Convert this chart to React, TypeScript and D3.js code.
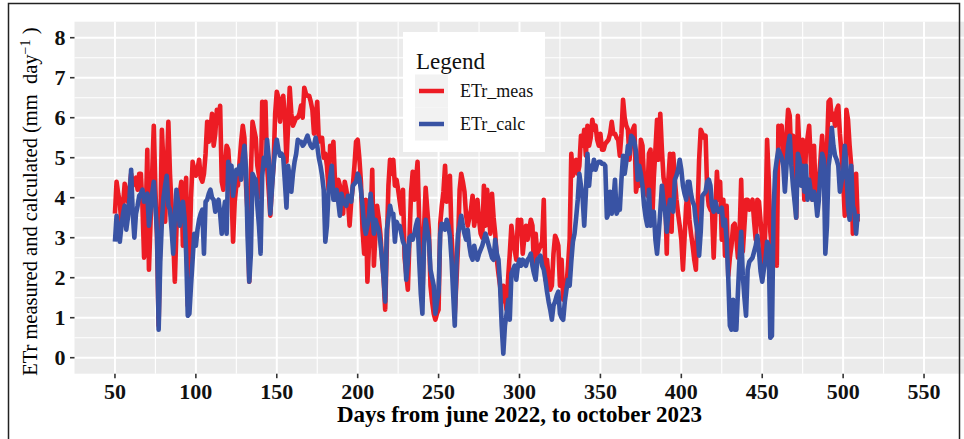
import React, { useEffect, useRef } from 'react';
import * as d3 from 'd3';

// daily values, day 50 .. 509
const etrMeas: number[] = [
  3.6, 4.4, 4.1, 3.9, 3.3, 3.8, 4.35, 4.1, 3.9, 4.2,
  4.6, 4.3, 4.4, 4.5, 4.2, 4.6, 4.6, 3.8, 2.5, 3.5,
  5.2, 2.2, 3.4, 4.6, 5.8, 4.2, 3.0, 0.8, 3.2, 5.7,
  4.8, 3.4, 4.6, 5.9, 4.6, 3.8, 3.0, 1.9, 3.2, 3.9,
  4.1, 4.4, 2.8, 3.95, 4.5, 1.3, 2.4, 4.0, 4.9, 4.7,
  4.55, 4.7, 4.95, 4.5, 4.4, 4.6, 5.1, 5.9, 5.4, 5.7,
  6.1, 5.3, 5.6, 6.2, 5.9, 6.3, 4.4, 4.2, 4.8, 5.3,
  5.2, 4.6, 4.15, 2.9, 3.9, 4.3, 4.3, 4.9, 5.4, 5.8,
  5.5, 4.3, 3.6, 1.9, 4.6, 5.9, 5.7, 5.5, 4.8, 4.55,
  4.0, 6.4, 5.5, 6.4, 4.8, 4.2, 3.55, 4.3, 4.8, 6.1,
  6.65, 6.5, 5.9, 6.3, 6.55, 6.0, 4.9, 5.8, 6.75, 6.1,
  5.8, 5.9, 6.0, 6.0, 6.1, 6.3, 6.0, 6.75, 6.6, 6.55,
  6.55, 6.4, 6.2, 5.6, 6.0, 6.4, 5.4, 5.5, 5.5, 5.0,
  5.1, 4.8, 4.2, 5.3, 5.0, 5.4, 4.4, 3.95, 4.45, 4.3,
  4.1, 3.6, 4.4, 4.2, 3.9, 3.3, 3.9, 4.3, 4.8, 5.4,
  5.45, 5.0, 4.4, 3.2, 2.6, 3.95, 1.9, 2.8, 3.45, 4.7,
  2.3, 3.1, 3.8, 3.5, 3.1, 2.5, 2.0, 1.2, 2.8, 4.3,
  4.95, 4.6, 4.95, 4.3, 4.45, 4.2, 3.9, 3.6, 4.2, 2.5,
  2.1, 1.7, 2.95, 4.15, 4.65, 3.95, 4.4, 4.9, 3.45, 2.5,
  1.45, 3.2, 4.25, 3.7, 3.2, 1.8, 1.4, 1.1, 0.95, 1.1,
  1.2, 3.35, 3.8, 4.15, 4.8, 3.9, 4.2, 4.55, 3.05, 2.3,
  1.1, 1.9, 2.8, 4.2, 4.6, 4.4, 4.15, 3.55, 3.3, 3.5,
  3.7, 4.05, 3.3, 3.6, 3.95, 3.45, 3.1, 3.0, 4.3, 3.3,
  4.2, 3.6, 3.1, 4.1, 3.5, 3.1, 2.45, 2.1, 1.8, 1.4,
  1.8, 1.5, 1.2, 2.0, 2.6, 3.3, 2.95, 2.7, 2.45, 3.45,
  3.1, 3.45, 2.6, 3.0, 3.3, 2.95, 3.2, 3.45, 3.3, 2.15,
  3.1, 2.6, 2.7, 2.8, 2.9, 3.95, 1.95, 2.45, 2.0, 1.7,
  1.8, 2.6, 3.05, 2.95, 2.8, 1.8, 2.45, 1.45, 1.6, 1.8,
  2.3, 2.95, 5.1, 4.55, 4.7, 4.95, 4.6, 4.8, 5.55, 5.3,
  5.7, 5.05, 5.8, 5.3, 5.5, 5.95, 5.7, 5.8, 5.45, 5.3,
  5.6, 5.2, 5.2, 5.35, 5.4, 5.45, 5.6, 5.9, 5.6, 5.6,
  5.5, 5.45, 5.05, 5.6, 6.45, 6.0, 5.8, 5.7, 4.95, 5.55,
  5.7, 5.8, 4.15, 4.4, 4.3, 5.45, 5.3, 4.4, 4.3, 4.05,
  5.1, 5.2, 3.4, 4.5, 5.2, 5.95, 4.95, 6.1, 5.2, 4.5,
  4.3, 2.6, 4.45, 5.1, 3.15, 5.1, 4.45, 3.95, 3.6, 3.3,
  2.95, 2.2, 3.0, 3.8, 4.15, 3.45, 3.1, 2.8, 2.45, 2.2,
  3.6, 4.95, 5.7, 5.6, 5.5, 5.55, 4.15, 3.8, 3.7, 3.65,
  2.5, 3.6, 4.65, 3.95, 4.4, 2.95, 3.95, 2.55, 3.8, 2.05,
  2.5, 2.8, 3.3, 3.35, 3.0, 2.5, 3.1, 4.45, 2.65, 3.3,
  3.95, 3.95, 3.7, 3.8, 3.95, 3.4, 2.95, 3.95, 3.9, 3.4,
  2.95, 2.3, 3.3, 5.45, 4.5, 3.15, 2.7, 2.3, 3.1, 2.3,
  5.8, 5.6, 5.8, 5.1, 4.65, 5.55, 6.2, 6.05, 4.95, 5.55,
  4.8, 3.5, 6.05, 5.2, 4.4, 5.45, 3.95, 5.2, 5.5, 5.8,
  4.95, 3.95, 5.3, 4.1, 3.8, 4.4, 4.95, 5.55, 4.95, 3.6,
  5.2, 6.4, 6.45, 5.95, 6.1, 5.8, 6.2, 6.3, 5.6, 5.1,
  4.45, 3.55, 6.2, 5.95, 5.3, 4.8, 3.1, 3.95, 4.6, 3.4,
];

const etrCalc: number[] = [
  2.9, 3.55, 3.2, 2.9, 3.3, 3.6, 3.8, 3.2, 3.5, 4.0,
  4.7, 3.6, 3.0, 3.6, 3.8, 4.05, 4.1, 4.2, 3.9, 4.0,
  4.1, 3.3, 3.7, 4.1, 4.4, 3.8, 3.1, 0.7, 2.4, 3.4,
  4.0, 4.3, 4.55, 3.8, 3.7, 3.2, 2.6, 3.5, 4.2, 3.9,
  3.3, 3.6, 3.9, 3.5, 2.6, 1.05, 1.1, 1.8, 2.45, 3.1,
  2.8, 3.2, 3.45, 3.6, 3.7, 2.6, 3.9, 3.95, 4.1, 4.2,
  4.0, 3.95, 3.65, 3.8, 3.95, 3.6, 3.1, 3.6, 3.9, 3.1,
  4.9, 4.6, 4.8, 4.05, 4.4, 4.7, 4.6, 4.8, 4.45, 5.0,
  5.3, 4.7, 3.0, 1.9, 2.6, 4.6, 4.5, 4.45, 3.8, 3.3,
  2.6, 4.55, 5.0, 4.8, 5.45, 5.0, 3.6, 4.2, 4.8, 5.2,
  5.45, 5.2, 5.05, 5.1, 5.0, 4.4, 3.75, 4.8, 4.5, 4.15,
  4.6, 4.9, 5.1, 5.45, 5.4, 5.4, 5.3, 5.35, 5.45, 5.55,
  5.4, 5.3, 5.25, 5.3, 5.5, 5.3, 5.0, 4.8, 4.55, 4.2,
  2.9, 3.3, 4.15, 4.5, 4.8, 3.95, 3.95, 4.2, 3.9, 3.55,
  4.1, 3.9, 3.85, 3.8, 4.05, 4.0, 3.9, 4.3, 4.35, 4.4,
  4.6, 4.5, 4.2, 3.8, 3.3, 3.1, 3.3, 3.55, 4.1, 3.65,
  3.1, 3.45, 3.3, 3.2, 2.9, 2.5, 2.0, 1.4, 3.2, 3.5,
  3.8, 3.6, 3.6, 2.9, 3.4, 3.3, 3.3, 3.1, 2.9, 2.8,
  1.95, 2.4, 3.0, 3.05, 2.95, 3.1, 3.3, 3.45, 2.45, 1.6,
  1.1, 2.85, 3.45, 3.2, 2.95, 2.2, 2.0, 1.8, 1.1, 1.4,
  1.65, 3.1, 3.35, 3.3, 3.2, 3.45, 3.3, 3.05, 2.45, 1.6,
  0.8, 2.3, 3.1, 3.3, 3.55, 3.3, 3.1, 2.95, 3.2, 2.8,
  2.55, 2.45, 2.8, 2.6, 2.45, 2.6, 2.7, 2.8, 2.95, 3.1,
  2.95, 2.8, 2.65, 2.5, 2.45, 2.95, 2.6, 2.45, 1.8, 0.8,
  0.1, 0.8, 1.1, 1.45, 0.95, 2.1, 2.2, 2.3, 1.95, 2.3,
  2.45, 2.3, 2.45, 2.35, 2.3, 2.45, 2.5, 2.6, 2.3, 2.1,
  1.95, 2.45, 2.5, 2.55, 2.3, 2.2, 1.95, 1.65, 1.4, 1.2,
  0.95, 1.3, 1.4, 1.55, 1.65, 1.1, 1.0, 0.95, 1.4, 1.7,
  1.95, 1.8, 2.4, 2.9, 3.1, 3.5, 3.95, 4.6, 4.3, 4.0,
  3.3, 4.1, 5.1, 4.3, 4.8, 4.7, 4.95, 4.7, 4.85, 4.9,
  4.9, 4.85, 4.85, 4.8, 3.5, 3.6, 4.15, 3.6, 3.9, 4.45,
  3.6, 3.7, 3.7, 4.45, 5.05, 4.6, 4.9, 5.3, 5.1, 5.55,
  5.5, 5.4, 5.15, 4.45, 4.8, 4.6, 4.3, 3.8, 3.5, 3.3,
  4.2, 3.3, 3.5, 3.65, 2.95, 2.6, 3.1, 3.65, 4.3, 3.9,
  3.65, 3.15, 3.65, 3.95, 3.8, 3.65, 4.45, 4.55, 4.7, 4.95,
  4.7, 4.3, 4.1, 3.95, 4.4, 4.4, 4.1, 3.9, 3.8, 3.4,
  3.15, 2.55, 3.15, 4.05, 4.1, 4.15, 4.4, 4.45, 4.3, 3.8,
  3.65, 3.9, 3.75, 3.65, 3.7, 3.75, 3.3, 3.45, 2.95, 2.0,
  0.8, 0.7, 1.45, 0.7, 0.7, 1.65, 2.5, 3.15, 2.05, 1.5,
  1.05, 2.2, 2.4, 2.45, 2.5, 2.65, 2.8, 3.05, 2.65, 2.15,
  1.9, 2.2, 2.45, 2.9, 2.8, 0.5, 0.55, 3.65, 4.65, 4.95,
  5.2, 5.1, 5.0, 4.8, 4.15, 4.8, 5.3, 5.55, 4.8, 4.3,
  3.9, 3.5, 5.1, 4.95, 4.3, 4.8, 4.15, 4.8, 3.95, 4.45,
  4.15, 3.95, 4.15, 4.0, 3.55, 3.95, 4.65, 5.1, 4.95, 2.6,
  3.3, 4.8, 5.1, 5.75, 5.3, 5.05, 4.95, 4.8, 4.15, 4.4,
  4.6, 5.3, 4.8, 3.8, 3.45, 4.8, 3.8, 3.65, 3.1, 3.6,
];

const FIRST_DAY = 50;
const xTicks = [50, 100, 150, 200, 250, 300, 350, 400, 450, 500, 550];
const yTicks = [0, 1, 2, 3, 4, 5, 6, 7, 8];
const seriesNames = ['ETr_meas', 'ETr_calc'];

const WIDTH = 964;
const HEIGHT = 439;
const SERIF = '"Liberation Serif", "Times New Roman", serif';

const App: React.FC = () => {
  const svgRef = useRef<SVGSVGElement>(null);

  useEffect(() => {
    if (!svgRef.current) return;
    const svg = d3.select(svgRef.current);
    svg.selectAll('*').remove();

    const colors = ['#ED1C24', '#3953A4'];
    const days = d3.range(FIRST_DAY, FIRST_DAY + etrMeas.length);

    // ggplot-like limits (50..550, 0..8) with 5% expansion
    const x = d3.scaleLinear().domain([25, 575]).range([74.5, 964.5]);
    const y = d3.scaleLinear().domain([-0.4, 8.4]).range([373.7, 21.7]);
    const [x0, x1] = x.range();
    const [yb, yt] = y.range();

    // panel
    svg.append('rect')
      .attr('x', x0).attr('y', yt)
      .attr('width', x1 - x0).attr('height', yb - yt)
      .attr('fill', '#EBEBEB');

    const grid = svg.append('g');
    const xMinor = xTicks.slice(0, -1).map(t => t + 25);
    const yMinor = yTicks.slice(0, -1).map(t => t + 0.5);

    grid.selectAll('.ymin').data(yMinor).enter().append('line')
      .attr('x1', x0).attr('x2', x1)
      .attr('y1', d => y(d)).attr('y2', d => y(d))
      .attr('stroke', '#fff').attr('stroke-width', 1.1);
    grid.selectAll('.xmin').data(xMinor).enter().append('line')
      .attr('y1', yt).attr('y2', yb)
      .attr('x1', d => x(d)).attr('x2', d => x(d))
      .attr('stroke', '#fff').attr('stroke-width', 1.1);
    grid.selectAll('.ymaj').data(yTicks).enter().append('line')
      .attr('x1', x0).attr('x2', x1)
      .attr('y1', d => y(d)).attr('y2', d => y(d))
      .attr('stroke', '#fff').attr('stroke-width', 2);
    grid.selectAll('.xmaj').data(xTicks).enter().append('line')
      .attr('y1', yt).attr('y2', yb)
      .attr('x1', d => x(d)).attr('x2', d => x(d))
      .attr('stroke', '#fff').attr('stroke-width', 2);

    // series
    const line = d3.line<number>()
      .x((_, i) => x(days[i]))
      .y(d => y(d));

    [etrMeas, etrCalc].forEach((vals, k) => {
      svg.append('path')
        .datum(vals)
        .attr('d', line)
        .attr('fill', 'none')
        .attr('stroke', colors[k])
        .attr('stroke-width', 4.6)
        .attr('stroke-linejoin', 'round');
    });

    // axes ticks
    svg.selectAll('.xt').data(xTicks).enter().append('line')
      .attr('x1', d => x(d)).attr('x2', d => x(d))
      .attr('y1', yb).attr('y2', yb + 4.5)
      .attr('stroke', '#333').attr('stroke-width', 1.6);
    svg.selectAll('.yt').data(yTicks).enter().append('line')
      .attr('y1', d => y(d)).attr('y2', d => y(d))
      .attr('x1', x0 - 4.5).attr('x2', x0)
      .attr('stroke', '#333').attr('stroke-width', 1.6);

    svg.selectAll('.xl').data(xTicks).enter().append('text')
      .attr('x', d => x(d)).attr('y', yb + 25)
      .attr('text-anchor', 'middle')
      .style('font-family', SERIF).style('font-weight', 'bold').style('font-size', '22px')
      .attr('fill', '#111')
      .text(d => d);
    svg.selectAll('.yl').data(yTicks).enter().append('text')
      .attr('x', x0 - 9).attr('y', d => y(d) + 7.5)
      .attr('text-anchor', 'end')
      .style('font-family', SERIF).style('font-weight', 'bold').style('font-size', '22px')
      .attr('fill', '#111')
      .text(d => d);

    // axis titles
    svg.append('text')
      .attr('x', (x0 + x1) / 2).attr('y', 422)
      .attr('text-anchor', 'middle')
      .style('font-family', SERIF).style('font-weight', 'bold').style('font-size', '23px')
      .attr('fill', '#000')
      .text('Days from june 2022, to october 2023');

    const yTitle = svg.append('text')
      .attr('transform', `translate(37,${(yt + yb) / 2 + 4}) rotate(-90)`)
      .attr('text-anchor', 'middle')
      .style('font-family', SERIF).style('font-size', '20.5px')
      .attr('fill', '#000');
    yTitle.append('tspan').text('ETr measured and calculated (mm\u00a0 day');
    yTitle.append('tspan').attr('dy', -7).style('font-size', '14px').text('\u22121');
    yTitle.append('tspan').attr('dy', 7).text(' )');

    // legend
    const lg = svg.append('g');
    lg.append('rect')
      .attr('x', 403).attr('y', 32).attr('width', 142).attr('height', 120)
      .attr('fill', '#fff');
    lg.append('text')
      .attr('x', 416).attr('y', 69)
      .style('font-family', SERIF).style('font-size', '23px')
      .attr('fill', '#111')
      .text('Legend');
    seriesNames.forEach((name, k) => {
      const cy = 91 + k * 33;
      lg.append('rect')
        .attr('x', 415).attr('y', cy - 16.5).attr('width', 33).attr('height', 33)
        .attr('fill', '#F2F2F2');
      lg.append('line')
        .attr('x1', 419).attr('x2', 444)
        .attr('y1', cy).attr('y2', cy)
        .attr('stroke', colors[k]).attr('stroke-width', 4.5);
      lg.append('text')
        .attr('x', 460).attr('y', cy + 6)
        .style('font-family', SERIF).style('font-size', '18px')
        .attr('fill', '#111')
        .text(name);
    });

    // figure frame
    svg.append('rect')
      .attr('x', 8.5).attr('y', 3.5)
      .attr('width', 951).attr('height', 445)
      .attr('fill', 'none')
      .attr('stroke', '#222').attr('stroke-width', 1.5);
  }, []);

  return (
    <div style={{ position: 'fixed', left: 0, top: 0, width: WIDTH, height: HEIGHT, background: '#fff' }}>
      <svg ref={svgRef} width={WIDTH} height={HEIGHT} style={{ display: 'block' }} />
    </div>
  );
};

export default App;
